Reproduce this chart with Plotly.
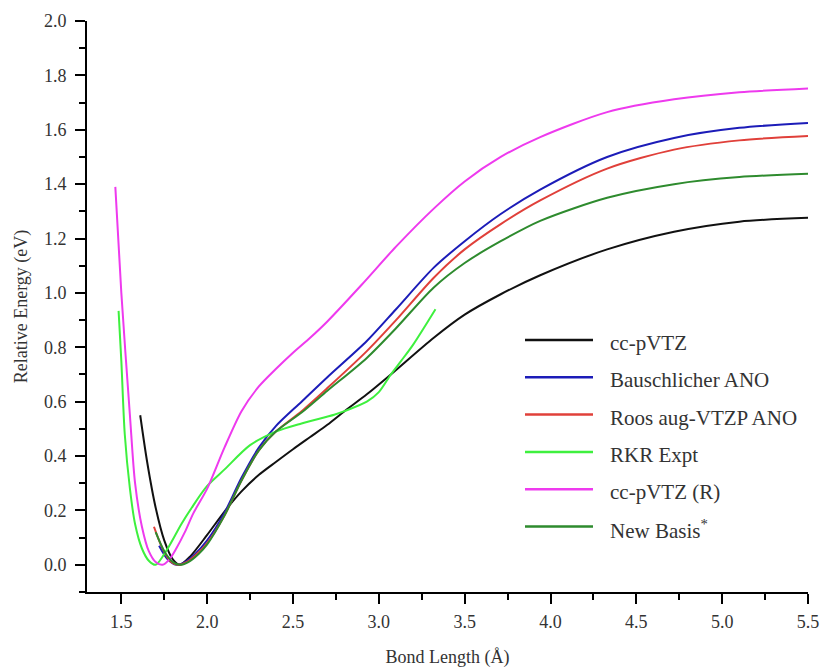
import plotly.graph_objects as go

# ---------------- data ----------------
names = ["cc-pVTZ", "Bauschlicher ANO", "Roos aug-VTZP ANO", "RKR Expt",
         "cc-pVTZ (R)", "New Basis<sup>*</sup>"]

ccpvtz_x = [1.61, 1.65, 1.70, 1.75, 1.80, 1.84, 1.90, 2.0, 2.1, 2.2, 2.3, 2.4, 2.5,
            2.6, 2.7, 2.8, 2.93, 3.07, 3.32, 3.5, 3.71, 3.94, 4.33, 4.72, 5.1, 5.5]
ccpvtz_y = [0.55, 0.38, 0.21, 0.09, 0.02, 0.0, 0.03, 0.11, 0.195, 0.27, 0.33, 0.378, 0.425,
            0.47, 0.515, 0.565, 0.627, 0.70, 0.835, 0.92, 0.995, 1.065, 1.16, 1.225, 1.262, 1.276]

bausch_x = [1.72, 1.77, 1.82, 1.87, 1.93, 2.0, 2.1, 2.2, 2.3, 2.4, 2.55, 2.7, 2.93, 3.1,
            3.32, 3.5, 3.71, 3.94, 4.33, 4.72, 5.1, 5.5]
bausch_y = [0.07, 0.02, 0.0, 0.01, 0.04, 0.09, 0.19, 0.32, 0.43, 0.51, 0.60, 0.69, 0.823, 0.94,
            1.093, 1.19, 1.29, 1.38, 1.50, 1.57, 1.607, 1.625]

roos_x = [1.69, 1.74, 1.79, 1.83, 1.88, 1.94, 2.0, 2.1, 2.2, 2.3, 2.4, 2.55, 2.7, 2.93, 3.1,
          3.32, 3.5, 3.71, 3.94, 4.33, 4.72, 5.1, 5.5]
roos_y = [0.14, 0.06, 0.01, 0.0, 0.01, 0.04, 0.08, 0.18, 0.31, 0.42, 0.49, 0.565, 0.65, 0.786,
          0.90, 1.056, 1.16, 1.253, 1.34, 1.457, 1.527, 1.561, 1.577]

rkr_x = [1.484, 1.50, 1.52, 1.55, 1.58, 1.62, 1.66, 1.70, 1.77, 1.85, 1.91, 2.0, 2.1, 2.25,
         2.4, 2.55, 2.74, 2.8, 2.93, 3.0, 3.07, 3.13, 3.2, 3.33]
rkr_y = [0.934, 0.75, 0.48, 0.28, 0.15, 0.06, 0.015, 0.0, 0.06, 0.15, 0.21, 0.29, 0.35, 0.44,
         0.49, 0.52, 0.552, 0.565, 0.60, 0.635, 0.70, 0.75, 0.81, 0.94]

ccpvtzR_x = [1.465, 1.50, 1.55, 1.58, 1.62, 1.66, 1.70, 1.74, 1.78, 1.82, 1.87, 1.92, 2.0,
             2.1, 2.2, 2.3, 2.4, 2.5, 2.6, 2.7, 2.9, 3.1, 3.32, 3.5, 3.71, 3.94,
             4.33, 4.72, 5.1, 5.5]
ccpvtzR_y = [1.39, 1.0, 0.55, 0.30, 0.14, 0.05, 0.01, 0.0, 0.02, 0.06, 0.12, 0.19, 0.28,
             0.43, 0.565, 0.655, 0.72, 0.78, 0.835, 0.895, 1.03, 1.17, 1.31, 1.41, 1.50, 1.573,
             1.665, 1.712, 1.738, 1.752]

newb_x = [1.70, 1.75, 1.80, 1.84, 1.89, 1.95, 2.0, 2.1, 2.2, 2.3, 2.4, 2.55, 2.7, 2.93, 3.1,
          3.32, 3.5, 3.71, 3.94, 4.33, 4.72, 5.1, 5.5]
newb_y = [0.12, 0.05, 0.01, 0.0, 0.01, 0.04, 0.075, 0.18, 0.31, 0.42, 0.49, 0.56, 0.64, 0.761,
          0.87, 1.02, 1.11, 1.19, 1.265, 1.35, 1.40, 1.426, 1.438]

xs = [ccpvtz_x, bausch_x, roos_x, rkr_x, ccpvtzR_x, newb_x]
ys = [ccpvtz_y, bausch_y, roos_y, rkr_y, ccpvtzR_y, newb_y]
colors = ["#111111", "#1c1cb8", "#e0403a", "#3ef03e", "#ee3aee", "#2e8b2e"]

# ---------------- figure ----------------
W, H = 821, 668
ML, MR, MT, MB = 87, 13, 21, 76
FONT = "Liberation Serif"
TXT = "#333333"

fig = go.Figure()
for x, y, c, n in zip(xs, ys, colors, names):
    fig.add_trace(go.Scatter(x=x, y=y, mode="lines", name=n, showlegend=False,
                             line=dict(color=c, width=2, shape="spline", smoothing=0.8)))

# manual legend (long line samples like the reference)
pw, ph = W - ML - MR, H - MT - MB
def px2x(px):
    return (px - ML) / pw
def py2y(py):
    return (H - MB - py) / ph

leg_y0, leg_dy = 340, 37.3
shapes, annotations = [], []
for i, (c, n) in enumerate(zip(colors, names)):
    yy = py2y(leg_y0 + i * leg_dy)
    shapes.append(dict(type="line", xref="paper", yref="paper",
                       x0=px2x(525), x1=px2x(593), y0=yy, y1=yy,
                       line=dict(color=c, width=2.5)))
    annotations.append(dict(xref="paper", yref="paper", x=px2x(608), y=py2y(leg_y0 + i * leg_dy + 3),
                            text=n, showarrow=False, xanchor="left", yanchor="middle",
                            font=dict(family=FONT, size=21, color=TXT)))

tickfont = dict(family=FONT, size=18, color=TXT)
fig.update_layout(
    width=W, height=H,
    margin=dict(l=ML, r=MR, t=MT, b=MB, autoexpand=False),
    plot_bgcolor="white", paper_bgcolor="white",
    font=dict(family=FONT, size=18, color=TXT),
    shapes=shapes, annotations=annotations,
    xaxis=dict(range=[1.3, 5.5], tick0=1.5, dtick=0.5, tickformat=".1f", tickfont=tickfont,
               showgrid=False, zeroline=False, showline=True, linecolor="black", linewidth=2,
               ticks="outside", ticklen=10, tickwidth=2, tickcolor="black",
               ticklabelstandoff=2,
               minor=dict(dtick=0.25, ticks="outside", ticklen=6, tickwidth=1.5, tickcolor="black"),
               title=dict(text="Bond Length (Å)", font=dict(family=FONT, size=18, color=TXT),
                          standoff=20)),
    yaxis=dict(range=[-0.1, 2.0], tick0=0, dtick=0.2, tickformat=".1f", tickfont=tickfont,
               showgrid=False, zeroline=False, showline=True, linecolor="black", linewidth=2,
               ticks="outside", ticklen=10, tickwidth=2, tickcolor="black",
               ticklabelstandoff=5,
               minor=dict(dtick=0.1, ticks="outside", ticklen=6, tickwidth=1.5, tickcolor="black"),
               title=dict(text="Relative Energy (eV)", font=dict(family=FONT, size=18, color=TXT),
                          standoff=12)),
)

fig.write_html("out.html")
